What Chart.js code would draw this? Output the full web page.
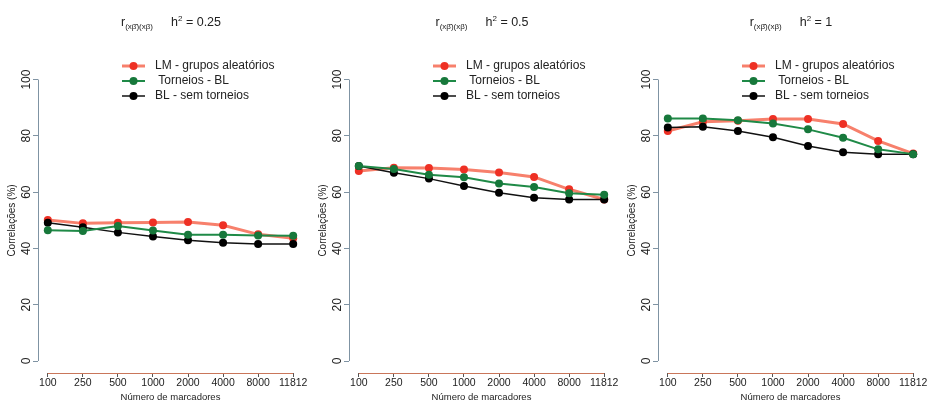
<!DOCTYPE html>
<html>
<head>
<meta charset="utf-8">
<script src="https://cdn.jsdelivr.net/npm/chart.js@4"></script>
<style>
    body { margin: 0; background: #fff; width: 927px; height: 404px; overflow: hidden; position: relative; font-family: "Liberation Sans", Arial, sans-serif; color: #222; }
    .painel { position: absolute; top: 0; width: 309px; height: 404px; }
    .titulo { position: absolute; top: 14px; left: 171px; transform: translateX(-50%); font-size: 12.5px; white-space: nowrap; }
    .titulo sub { font-size: 8px; vertical-align: -3px; }
    .titulo sup { font-size: 8px; vertical-align: 5px; }
    .titulo .h { margin-left: 18px; }
</style>
</head>
<body>

<div class="painel" style="left:0px">
    <canvas id="grafico1" width="309" height="404"></canvas>
    <div class="titulo">r<sub>(xβ̂)(xβ)</sub><span class="h">h<sup>2</sup> = 0.25</span></div>
</div>
<div class="painel" style="left:311px">
    <canvas id="grafico2" width="309" height="404"></canvas>
    <div class="titulo">r<sub>(xβ̂)(xβ)</sub><span class="h">h<sup>2</sup> = 0.5</span></div>
</div>
<div class="painel" style="left:620px">
    <canvas id="grafico3" width="309" height="404"></canvas>
    <div class="titulo">r<sub>(xβ̂)(xβ)</sub><span class="h">h<sup>2</sup> = 1</span></div>
</div>

<script>
// dados
const marcadores = ['100', '250', '500', '1000', '2000', '4000', '8000', '11812'];
const yTicks = [0, 20, 40, 60, 80, 100];
const nomesSeries = ['LM - grupos aleatórios', ' Torneios - BL', 'BL - sem torneios'];

// h2 = 0.25
const lm_025 = [50.1, 48.9, 49.1, 49.2, 49.4, 48.2, 45.0, 43.6];
const torneios_025 = [46.5, 46.2, 48.0, 46.4, 44.9, 44.9, 44.6, 44.5];
const bl_025 = [49.1, 47.5, 45.7, 44.2, 42.9, 42.0, 41.6, 41.6];

// h2 = 0.5
const lm_05 = [67.5, 68.7, 68.6, 68.0, 67.0, 65.4, 61.0, 57.4];
const torneios_05 = [69.3, 68.2, 66.2, 65.3, 63.1, 61.8, 59.6, 59.1];
const bl_05 = [69.3, 66.9, 64.8, 62.2, 59.8, 58.0, 57.4, 57.4];

// h2 = 1
const lm_1 = [81.7, 85.0, 85.4, 86.0, 86.0, 84.2, 78.2, 73.7];
const torneios_1 = [86.2, 86.2, 85.5, 84.4, 82.3, 79.3, 75.2, 73.5];
const bl_1 = [83.0, 83.2, 81.7, 79.5, 76.4, 74.2, 73.5, 73.5];

Chart.defaults.font.family = '"Liberation Sans", Arial, sans-serif';
Chart.defaults.color = '#222';

const estilos = [
    { linha: '#f7806c', ponto: '#ee3024', largura: 3, ordem: 2 },
    { linha: '#1f8a47', ponto: '#17783b', largura: 2, ordem: 0 },
    { linha: '#111111', ponto: '#000000', largura: 1.5, ordem: 1 }
];

// eixos no estilo R + legenda
const eixosR = {
    id: 'eixosR',
    afterDraw(chart) {
        const ctx = chart.ctx;
        const area = chart.chartArea;
        const sx = chart.scales.x;
        const sy = chart.scales.y;
        ctx.save();

        // eixo y (0 a 100)
        ctx.strokeStyle = '#7f93a3';
        ctx.lineWidth = 1;
        ctx.beginPath();
        ctx.moveTo(area.left + 0.5, sy.getPixelForValue(yTicks[0]));
        ctx.lineTo(area.left + 0.5, sy.getPixelForValue(yTicks[yTicks.length - 1]));
        ctx.stroke();

        // eixo x
        ctx.strokeStyle = '#c9765a';
        ctx.beginPath();
        ctx.moveTo(sx.getPixelForValue(1), area.bottom + 0.5);
        ctx.lineTo(sx.getPixelForValue(marcadores.length), area.bottom + 0.5);
        ctx.stroke();

        // rótulos y girados
        ctx.fillStyle = '#222';
        ctx.font = '12px "Liberation Sans", Arial, sans-serif';
        ctx.textAlign = 'center';
        ctx.textBaseline = 'middle';
        yTicks.forEach(v => {
            ctx.save();
            ctx.translate(area.left - 11, sy.getPixelForValue(v));
            ctx.rotate(-Math.PI / 2);
            ctx.fillText(String(v), 0, 0);
            ctx.restore();
        });

        // título y
        ctx.save();
        ctx.font = '10px "Liberation Sans", Arial, sans-serif';
        ctx.translate(12, (area.top + area.bottom) / 2);
        ctx.rotate(-Math.PI / 2);
        ctx.fillText('Correlações (%)', 0, 0);
        ctx.restore();

        // legenda
        ctx.font = '12px "Liberation Sans", Arial, sans-serif';
        ctx.textAlign = 'left';
        chart.data.datasets.forEach((ds, i) => {
            const y = 66 + 15 * i;
            const x0 = area.left + 84;
            ctx.strokeStyle = ds.borderColor;
            ctx.lineWidth = ds.borderWidth;
            ctx.beginPath();
            ctx.moveTo(x0, y);
            ctx.lineTo(x0 + 23, y);
            ctx.stroke();
            ctx.fillStyle = ds.pointBackgroundColor;
            ctx.beginPath();
            ctx.arc(x0 + 11.5, y, 4, 0, Math.PI * 2);
            ctx.fill();
            ctx.fillStyle = '#222';
            ctx.fillText(ds.label, area.left + 117, y);
        });
        ctx.restore();
    }
};

function criarPainel(id, lm, torneios, bl) {
    const series = [lm, torneios, bl];
    new Chart(document.getElementById(id), {
        type: 'line',
        data: {
            datasets: series.map((valores, i) => ({
                label: nomesSeries[i],
                data: valores.map((v, j) => ({ x: j + 1, y: v })),
                borderColor: estilos[i].linha,
                borderWidth: estilos[i].largura,
                pointBackgroundColor: estilos[i].ponto,
                pointBorderColor: estilos[i].ponto,
                pointRadius: 4,
                pointBorderWidth: 0,
                tension: 0,
                order: estilos[i].ordem
            }))
        },
        options: {
            responsive: false,
            animation: false,
            devicePixelRatio: 1,
            layout: { padding: { top: 68, right: 6, left: 0, bottom: 0 } },
            plugins: { legend: { display: false }, tooltip: { enabled: false } },
            scales: {
                x: {
                    type: 'linear',
                    min: 0.72,
                    max: marcadores.length + 0.28,
                    afterBuildTicks: s => { s.ticks = marcadores.map((m, i) => ({ value: i + 1 })); },
                    afterFit: s => { s.height = 31; },
                    ticks: {
                        callback: v => marcadores[v - 1],
                        font: { size: 10.5 },
                        padding: 0,
                        maxRotation: 0,
                        autoSkip: false
                    },
                    grid: { drawOnChartArea: false, drawTicks: true, tickLength: 4, color: '#555' },
                    border: { display: false },
                    title: { display: true, text: 'Número de marcadores', font: { size: 9.5 }, padding: { top: 0, bottom: 1 } }
                },
                y: {
                    min: -4.26,
                    max: 104.1,
                    afterBuildTicks: s => { s.ticks = yTicks.map(v => ({ value: v })); },
                    afterFit: s => { s.width = 38; },
                    ticks: { display: false },
                    grid: { drawOnChartArea: false, drawTicks: true, tickLength: 5, color: '#7f93a3' },
                    border: { display: false }
                }
            }
        },
        plugins: [eixosR]
    });
}

criarPainel('grafico1', lm_025, torneios_025, bl_025);
criarPainel('grafico2', lm_05, torneios_05, bl_05);
criarPainel('grafico3', lm_1, torneios_1, bl_1);
</script>
</body>
</html>
